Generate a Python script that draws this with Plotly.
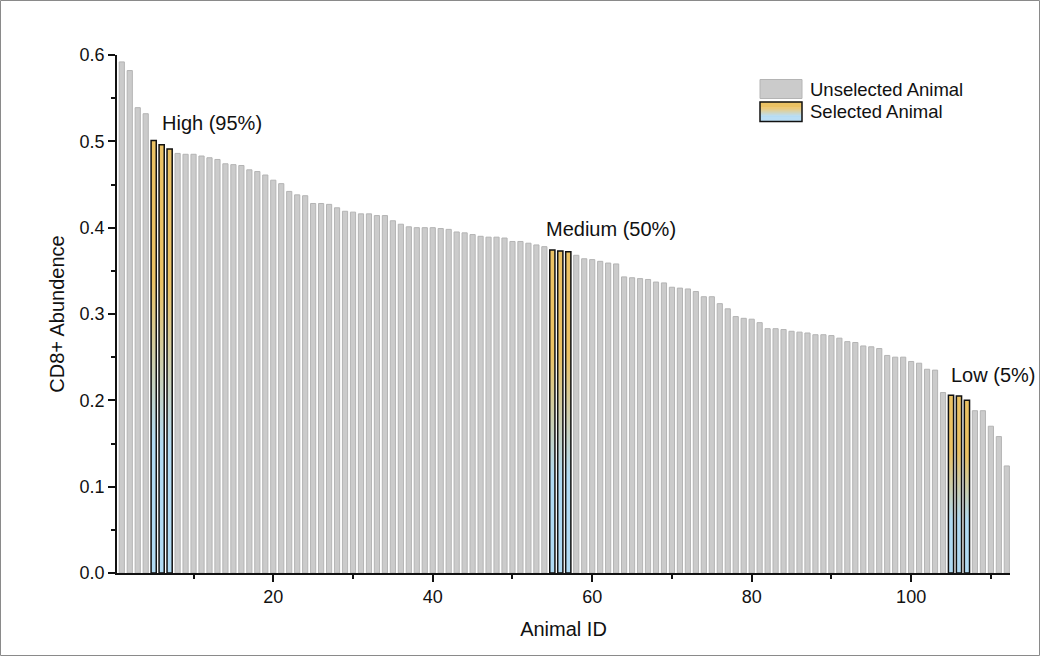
import plotly.graph_objects as go

# ---------------- data ----------------
animal_id = list(range(1, 113))
abundance = [
    0.592, 0.582, 0.539, 0.532, 0.501, 0.496, 0.491, 0.486, 0.485, 0.485,
    0.483, 0.481, 0.479, 0.474, 0.473, 0.472, 0.467, 0.465, 0.461, 0.455,
    0.451, 0.442, 0.438, 0.437, 0.428, 0.428, 0.427, 0.423, 0.419, 0.418,
    0.416, 0.416, 0.414, 0.414, 0.408, 0.404, 0.401, 0.400, 0.400, 0.400,
    0.399, 0.398, 0.395, 0.394, 0.392, 0.390, 0.389, 0.389, 0.388, 0.384,
    0.384, 0.382, 0.380, 0.378, 0.374, 0.373, 0.372, 0.368, 0.364, 0.363,
    0.361, 0.359, 0.358, 0.343, 0.342, 0.341, 0.340, 0.337, 0.336, 0.331,
    0.330, 0.329, 0.326, 0.320, 0.320, 0.312, 0.306, 0.297, 0.295, 0.294,
    0.290, 0.283, 0.283, 0.282, 0.280, 0.279, 0.278, 0.276, 0.276, 0.275,
    0.272, 0.268, 0.267, 0.263, 0.262, 0.260, 0.252, 0.250, 0.250, 0.245,
    0.243, 0.236, 0.235, 0.209, 0.206, 0.205, 0.200, 0.188, 0.188, 0.170,
    0.158, 0.124,
]
selected_ids = [5, 6, 7, 55, 56, 57, 105, 106, 107]
group_labels = ["High (95%)", "Medium (50%)", "Low (5%)"]
label_x = [5.8, 54.0, 104.7]
label_y = [0.521, 0.398, 0.229]
legend_labels = ["Unselected Animal", "Selected Animal"]
y_ticks = [0.0, 0.1, 0.2, 0.3, 0.4, 0.5, 0.6]
x_ticks = [20, 40, 60, 80, 100]

# ---------------- style ----------------
FONT = "Liberation Sans, Arial, sans-serif"
TXT = "#111111"
BAR_W = 0.65
GRAY = "#cbcbcb"
GRAY_EDGE = "#b4b4b4"
ORANGE = (235, 194, 100)
BLUE = (176, 218, 243)
ORANGE_HEX = "rgb(%d,%d,%d)" % ORANGE
BLUE_HEX = "rgb(%d,%d,%d)" % BLUE
GRAD = [[0, BLUE_HEX], [0.3, BLUE_HEX], [0.68, ORANGE_HEX], [1, ORANGE_HEX]]


def grad_color(f):
    """colour of the gradient at fraction f from the bottom"""
    if f <= 0.3:
        t = 0.0
    elif f >= 0.68:
        t = 1.0
    else:
        t = (f - 0.3) / 0.38
    c = [round(BLUE[i] + (ORANGE[i] - BLUE[i]) * t) for i in range(3)]
    return "rgb(%d,%d,%d)" % tuple(c)


unsel_x = [i for i in animal_id if i not in selected_ids]
unsel_y = [abundance[i - 1] for i in unsel_x]

fig = go.Figure()
fig.add_trace(go.Bar(
    x=unsel_x, y=unsel_y, width=BAR_W,
    marker=dict(color=GRAY, line=dict(color=GRAY_EDGE, width=1)),
    name=legend_labels[0], showlegend=False,
))

for k, sid in enumerate(selected_ids):
    v = abundance[sid - 1]
    xs = [sid - BAR_W / 2, sid + BAR_W / 2, sid + BAR_W / 2, sid - BAR_W / 2, sid - BAR_W / 2]
    ys = [0, 0, v, v, 0]
    fig.add_trace(go.Scatter(
        x=xs, y=ys, mode="lines", fill="toself",
        fillgradient=dict(type="vertical", start=0, stop=v, colorscale=GRAD),
        line=dict(color=TXT, width=1.5),
        name=legend_labels[1], showlegend=False, hoverinfo="skip",
    ))

for txt, lx, ly in zip(group_labels, label_x, label_y):
    fig.add_annotation(x=lx, y=ly, text=txt, showarrow=False,
                       xanchor="left", yanchor="middle",
                       font=dict(family=FONT, size=20, color=TXT))

# ---------------- geometry ----------------
L, R, T, B = 117, 30, 55, 83
W, H = 1040, 656
pw, ph = W - L - R, H - T - B


def px_x(p):
    return (p - L) / pw


def px_y(p):
    return (H - B - p) / ph


# figure frame
fig.add_shape(type="rect", xref="paper", yref="paper",
              x0=px_x(0.5), x1=px_x(W - 0.5), y0=px_y(H - 0.5), y1=px_y(0.5),
              line=dict(color="#8a8a8a", width=1), fillcolor="rgba(0,0,0,0)", layer="below")

# custom legend (large swatches, gradient for selected)
sw_x0, sw_x1 = px_x(760), px_x(802)
fig.add_shape(type="rect", xref="paper", yref="paper",
              x0=sw_x0, x1=sw_x1, y0=px_y(98.5), y1=px_y(79.5),
              line=dict(color=GRAY_EDGE, width=1), fillcolor=GRAY)
top, bot = 102.0, 121.5
n = 20
for i in range(n):
    p0 = bot - (bot - top) * i / n
    p1 = bot - (bot - top) * (i + 1) / n
    fig.add_shape(type="rect", xref="paper", yref="paper",
                  x0=sw_x0, x1=sw_x1, y0=px_y(p0), y1=px_y(p1) + 0.0005,
                  line=dict(width=0), fillcolor=grad_color((i + 0.5) / n))
fig.add_shape(type="rect", xref="paper", yref="paper",
              x0=sw_x0, x1=sw_x1, y0=px_y(bot), y1=px_y(top),
              line=dict(color=TXT, width=1.5), fillcolor="rgba(0,0,0,0)")
for txt, py in zip(legend_labels, [89.0, 111.7]):
    fig.add_annotation(xref="paper", yref="paper", x=px_x(808), y=px_y(py),
                       text=txt, showarrow=False, xanchor="left", yanchor="middle",
                       font=dict(family=FONT, size=18.5, color=TXT))

axis_common = dict(showgrid=False, zeroline=False, showline=True, linecolor=TXT,
                   linewidth=1.5, ticks="outside", ticklen=7, tickwidth=1.5, tickcolor=TXT,
                   tickfont=dict(family=FONT, size=18, color=TXT))

fig.update_xaxes(range=[0.4, 112.4], tickvals=x_ticks,
                 minor=dict(tickvals=[10, 30, 50, 70, 90, 110], ticks="outside", ticklen=4,
                            tickwidth=1.5, tickcolor=TXT),
                 title=dict(text="Animal ID", font=dict(family=FONT, size=20, color=TXT), standoff=16),
                 **axis_common)
fig.update_yaxes(range=[0, 0.6], tickvals=y_ticks, tickformat=".1f",
                 minor=dict(tickvals=[0.05, 0.15, 0.25, 0.35, 0.45, 0.55], ticks="outside", ticklen=4,
                            tickwidth=1.5, tickcolor=TXT),
                 title=dict(text="CD8+ Abundence", font=dict(family=FONT, size=20, color=TXT), standoff=10),
                 **axis_common)

fig.update_layout(
    width=W, height=H, margin=dict(l=L, r=R, t=T, b=B),
    paper_bgcolor="white", plot_bgcolor="white",
    font=dict(family=FONT, size=18, color=TXT),
    showlegend=False,
)

fig.write_html("out.html")
